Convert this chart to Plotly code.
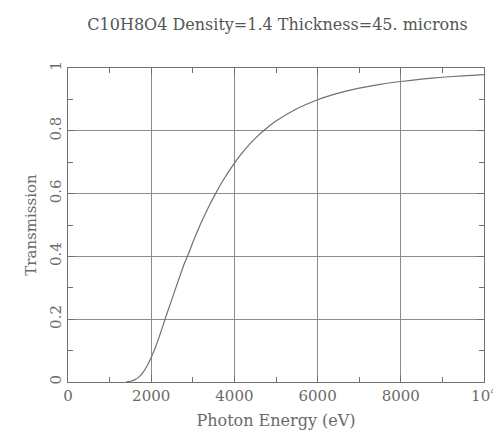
import plotly.graph_objects as go

# Data
energy_ev = [1400, 1500, 1600, 1700, 1800, 1900, 2000, 2100, 2200, 2333, 2400, 2600, 2800,
             2871, 3000, 3200, 3400, 3547, 3700, 4000, 4250, 4500, 4750, 5000, 5500,
             6000, 6500, 7000, 7500, 8000, 8500, 9000, 9500, 10000]
transmission = [0.0006, 0.0024, 0.0068, 0.0156, 0.030, 0.051, 0.078, 0.110, 0.147, 0.200,
                0.226, 0.303, 0.378, 0.400, 0.444, 0.507, 0.563, 0.600, 0.636, 0.697,
                0.740, 0.776, 0.806, 0.831, 0.870, 0.899, 0.920, 0.936, 0.948, 0.957,
                0.9645, 0.9705, 0.9752, 0.979]

x_tickvals = [0, 2000, 4000, 6000, 8000, 10000]
x_ticktext = ["0", "2000", "4000", "6000", "8000", "10<sup>4</sup>"]
y_tickvals = [0, 0.2, 0.4, 0.6, 0.8, 1]
y_ticktext = ["0", "0.2", "0.4", "0.6", "0.8", "1"]

title_text = "C10H8O4 Density=1.4 Thickness=45. microns"

FONT = "DejaVu Serif"
GRAY = "#707070"
TXT = "#6a6a6a"

fig = go.Figure()
fig.add_trace(go.Scatter(x=energy_ev, y=transmission, mode="lines",
                         line=dict(color="#707070", width=1.2, shape="spline", smoothing=0.6),
                         showlegend=False))

axis_common = dict(
    showline=True, linecolor=GRAY, linewidth=1, mirror="allticks",
    ticks="inside", ticklen=7, tickcolor=GRAY, tickwidth=1,
    showgrid=True, gridcolor="#8c8c8c", gridwidth=1, zeroline=False,
    tickfont=dict(family=FONT, size=15, color=TXT),
    ticklabeloverflow="allow",
)

fig.update_xaxes(range=[0, 10000], tickmode="array", tickvals=x_tickvals, ticktext=x_ticktext,
                 minor=dict(ticks="inside", dtick=1000, ticklen=5, tickcolor=GRAY, showgrid=False),
                 title=dict(text="Photon Energy (eV)", font=dict(family=FONT, size=16, color=TXT), standoff=10),
                 **axis_common)
fig.update_yaxes(range=[0, 1], tickmode="array", tickvals=y_tickvals, ticktext=y_ticktext, tickangle=-90,
                 minor=dict(ticks="inside", dtick=0.1, ticklen=5, tickcolor=GRAY, showgrid=False),
                 title=dict(text="Transmission", font=dict(family=FONT, size=15, color=TXT), standoff=6),
                 **axis_common)

fig.update_layout(
    width=501, height=430,
    margin=dict(l=60, r=16, t=60, b=56),
    paper_bgcolor="white", plot_bgcolor="white",
    title=dict(text=title_text, x=0.538, xanchor="center", y=0.962, yanchor="middle",
               font=dict(family=FONT, size=16, color="#555555")),
)

fig.write_html("out.html")
